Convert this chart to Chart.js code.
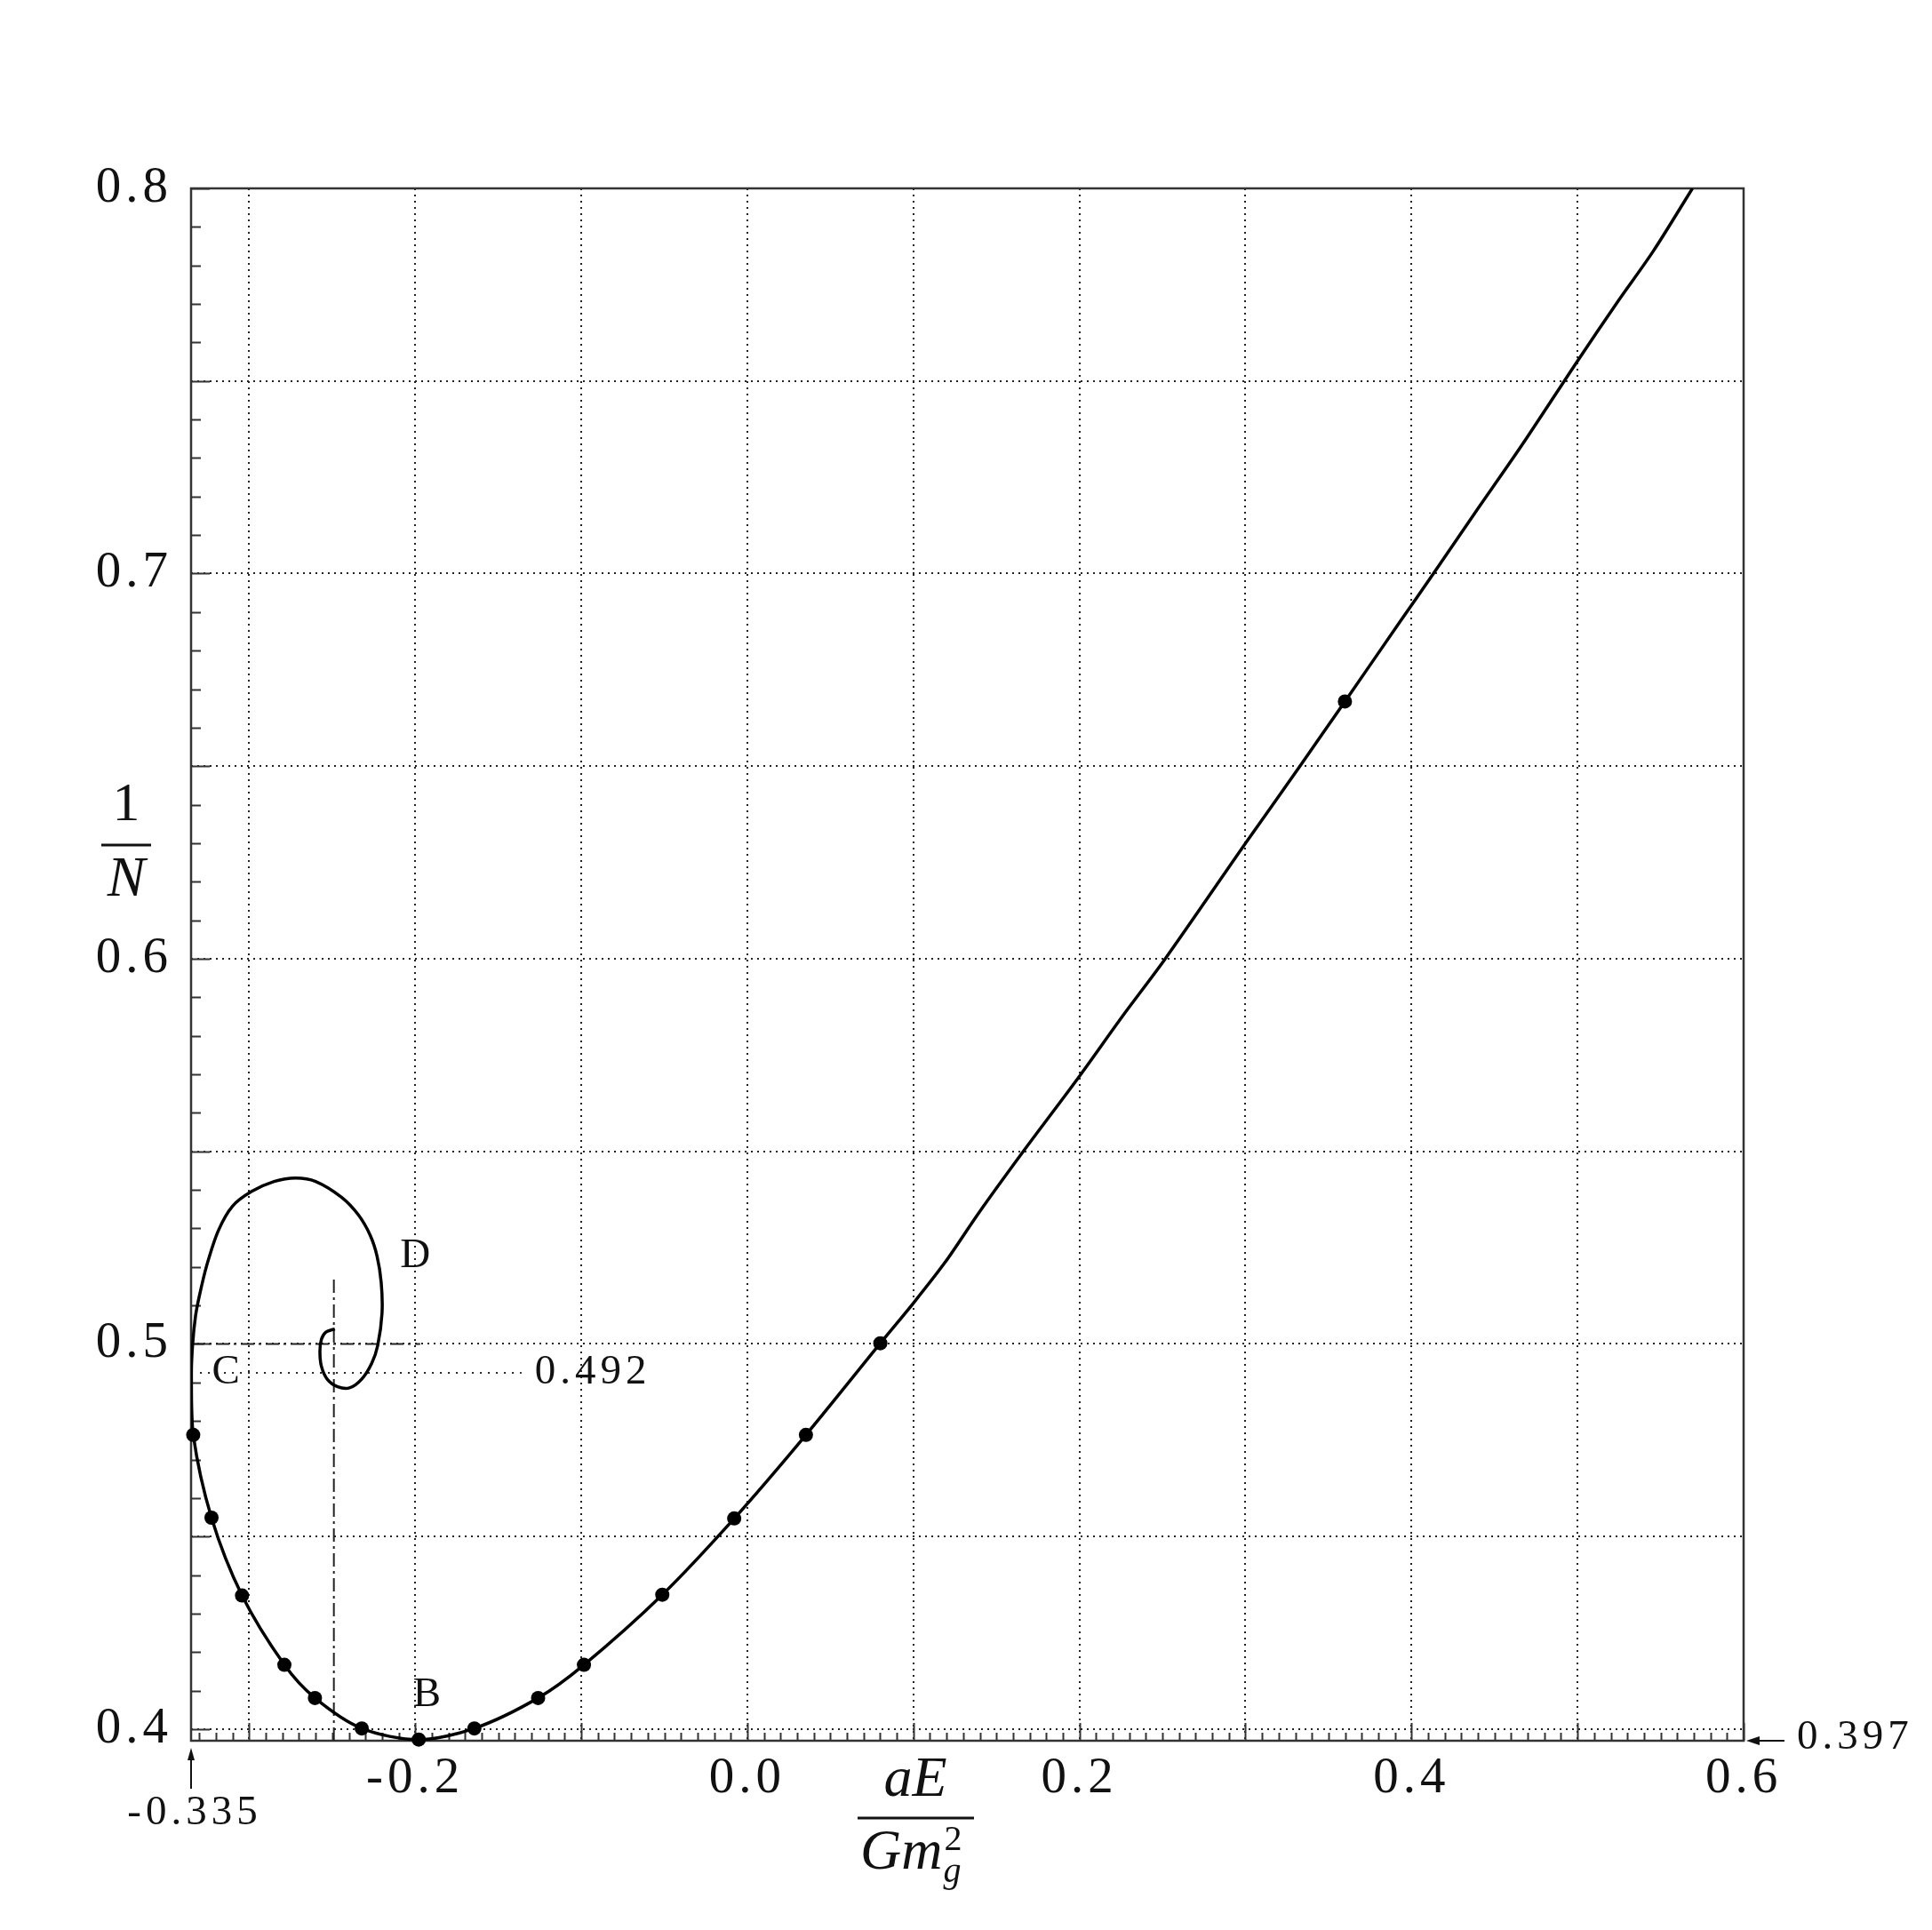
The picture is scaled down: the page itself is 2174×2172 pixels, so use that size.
<!DOCTYPE html>
<html lang="en">
  <head>
    <meta charset="utf-8">
    <title>1/N versus aE/Gm_g^2</title>
    <script src="https://cdn.jsdelivr.net/npm/chart.js@4.4.0/dist/chart.umd.min.js"></script>
    <style>
      body { margin: 0; background: #fff; }
      #wrap { position: absolute; left: 0; top: 0; width: 2174px; height: 2172px; }
    </style>
  </head>
  <body>
    <div id="wrap">
      <canvas id="spiral" width="2174" height="2172"></canvas>
    </div>
  <script>
  // ---- data ----
  // the solid curve, from the top right down and into the spiral
  var curveX = [0.5692, 0.5456, 0.5242, 0.5000, 0.4669, 0.4383, 0.4132, 0.3934, 0.3599, 0.3328,
                0.3004, 0.2517, 0.2258, 0.2000, 0.1662, 0.1395, 0.1191, 0.1000, 0.0801,
                0.0353, -0.0079, -0.0512, -0.0984, -0.1260, -0.1644, -0.1979, -0.2322, -0.2604, -0.2788,
                -0.3043, -0.3227, -0.3337, -0.3348, -0.3341, -0.3323, -0.3300, -0.3255, -0.3185, -0.3100,
                -0.2985, -0.2850, -0.2720, -0.2600, -0.2444, -0.2342, -0.2271, -0.2230, -0.2205, -0.2200,
                -0.2226, -0.2262, -0.2324, -0.2396, -0.2467, -0.2529, -0.2565, -0.2574, -0.2565, -0.2538, -0.2484];
  var curveY = [0.8000, 0.7837, 0.7706, 0.7552, 0.7336, 0.7158, 0.7000, 0.6877, 0.6668, 0.6500,
                0.6302, 0.6000, 0.5850, 0.5695, 0.5500, 0.5341, 0.5212, 0.5106, 0.5002,
                0.4764, 0.4547, 0.4349, 0.4167, 0.4081, 0.4002, 0.3973, 0.4002, 0.4081, 0.4167,
                0.4347, 0.4549, 0.4764, 0.4920, 0.4996, 0.5073, 0.5125, 0.5205, 0.5295, 0.5358,
                0.5396, 0.5422, 0.5431, 0.5422, 0.5381, 0.5335, 0.5282, 0.5228, 0.5160, 0.5080,
                0.4996, 0.4950, 0.4908, 0.4886, 0.4889, 0.4908, 0.4942, 0.4981, 0.5012, 0.5031, 0.5039];

  // the marked points on the curve
  var dotX = [0.3599, 0.0801, 0.0353, -0.0079, -0.0512, -0.0984, -0.1260, -0.1644,
              -0.1979, -0.2322, -0.2604, -0.2788, -0.3043, -0.3227, -0.3337];
  var dotY = [0.6668, 0.5002, 0.4764, 0.4547, 0.4349, 0.4167, 0.4081, 0.4002,
              0.3973, 0.4002, 0.4081, 0.4167, 0.4347, 0.4549, 0.4764];

  // guide lines around the spiral centre
  var vGuideX = [-0.249, -0.249];
  var vGuideY = [0.397, 0.5167];
  var hGuideX = [-0.335, -0.197];
  var hGuideY = [0.5, 0.5];
  var levelX = [-0.3296, -0.136];
  var levelY = [0.4925, 0.4925];

  // axes
  var xMin = -0.335, xMax = 0.6;
  var yMin = 0.397, yMax = 0.8;
  var xGridValues = [-0.3, -0.2, -0.1, 0.0, 0.1, 0.2, 0.3, 0.4, 0.5, 0.6];
  var xTickLabels = ['', '-0.2', '', '0.0', '', '0.2', '', '0.4', '', '0.6'];
  var yGridValues = [0.40, 0.45, 0.50, 0.55, 0.60, 0.65, 0.70, 0.75, 0.80];
  var yTickLabels = ['0.4', '', '0.5', '', '0.6', '', '0.7', '', '0.8'];

  // text marks: [text, x, y]
  var pointNames = [['B', -0.193, 0.4089], ['C', -0.3141, 0.4925], ['D', -0.2, 0.5228]];
  var levelLabel = ['0.492', -0.128, 0.4925];
  var xLimitLabel = '-0.335';
  var yLimitLabel = '0.397';

  //-----------------------------------------------------------------------------------------------------------------

  function pairs(xs, ys) {
    var out = [];
    for (var i = 0; i < xs.length; ++i) out.push({x: xs[i], y: ys[i]});
    return out;
  }

  var serif = "'Liberation Serif', 'Times New Roman', serif";

  // frame, inward tick marks, titles and the little annotations
  var decor = {
    id: 'decor',
    beforeDraw: function(chart) {
      // wider spacing for the tick numbers, like the original typesetting
      chart.ctx.letterSpacing = '5px';
    },
    beforeDatasetsDraw: function(chart) {
      var ctx = chart.ctx, a = chart.chartArea;
      var xs = chart.scales.x, ys = chart.scales.y;
      ctx.letterSpacing = '0px';
      ctx.save();
      ctx.strokeStyle = '#333';
      ctx.lineWidth = 2;
      ctx.beginPath();
      for (var i = 40; i <= 80; i++) {
        var py = Math.round(ys.getPixelForValue(i / 100)) + 0.5;
        var len = (i % 5 === 0) ? 21 : 11;
        ctx.moveTo(a.left, py);
        ctx.lineTo(a.left + len, py);
      }
      for (var j = -33; j <= 60; j++) {
        var px = Math.round(xs.getPixelForValue(j / 100)) + 0.5;
        var l2 = (j % 10 === 0) ? 20 : 9;
        ctx.moveTo(px, a.bottom);
        ctx.lineTo(px, a.bottom - l2);
      }
      ctx.stroke();
      ctx.lineWidth = 2.5;
      ctx.strokeRect(a.left, a.top, a.right - a.left, a.bottom - a.top);
      ctx.restore();
    },
    afterDraw: function(chart) {
      var ctx = chart.ctx, a = chart.chartArea;
      var xs = chart.scales.x, ys = chart.scales.y;
      ctx.save();
      ctx.fillStyle = '#111';
      ctx.strokeStyle = '#111';

      // B, C, D
      ctx.font = '47px ' + serif;
      ctx.textAlign = 'center';
      ctx.textBaseline = 'middle';
      pointNames.forEach(function(p) {
        ctx.fillText(p[0], xs.getPixelForValue(p[1]), ys.getPixelForValue(p[2]));
      });

      ctx.letterSpacing = '5px';
      ctx.textAlign = 'left';
      ctx.fillText(levelLabel[0], xs.getPixelForValue(levelLabel[1]), ys.getPixelForValue(levelLabel[2]));

      // -0.335 arrow under the axis
      var ax = xs.getPixelForValue(xMin);
      ctx.lineWidth = 2;
      ctx.beginPath();
      ctx.moveTo(ax, a.bottom + 54);
      ctx.lineTo(ax, a.bottom + 20);
      ctx.stroke();
      ctx.beginPath();
      ctx.moveTo(ax, a.bottom + 8);
      ctx.lineTo(ax - 4, a.bottom + 22);
      ctx.lineTo(ax + 4, a.bottom + 22);
      ctx.closePath();
      ctx.fill();
      ctx.textAlign = 'center';
      ctx.fillText(xLimitLabel, ax + 4, a.bottom + 82);

      // 0.397 arrow right of the frame
      var ay = ys.getPixelForValue(yMin);
      ctx.beginPath();
      ctx.moveTo(a.right + 46, ay);
      ctx.lineTo(a.right + 16, ay);
      ctx.stroke();
      ctx.beginPath();
      ctx.moveTo(a.right + 3, ay);
      ctx.lineTo(a.right + 18, ay - 5);
      ctx.lineTo(a.right + 18, ay + 5);
      ctx.closePath();
      ctx.fill();
      ctx.textAlign = 'left';
      ctx.fillText(yLimitLabel, a.right + 60, ay - 3);
      ctx.letterSpacing = '0px';

      // y title 1/N
      ctx.textAlign = 'center';
      ctx.textBaseline = 'alphabetic';
      ctx.font = '62px ' + serif;
      ctx.fillText('1', 142, 923);
      ctx.font = 'italic 64px ' + serif;
      ctx.fillText('N', 142, 1008);
      ctx.lineWidth = 3;
      ctx.beginPath();
      ctx.moveTo(114, 951);
      ctx.lineTo(170, 951);
      ctx.stroke();

      // x title aE / Gm_g^2
      ctx.font = 'italic 64px ' + serif;
      ctx.fillText('aE', 1030, 2021);
      ctx.beginPath();
      ctx.moveTo(965, 2046);
      ctx.lineTo(1096, 2046);
      ctx.stroke();
      ctx.textAlign = 'left';
      ctx.fillText('Gm', 968, 2103);
      var w = ctx.measureText('Gm').width;
      ctx.font = '40px ' + serif;
      ctx.fillText('2', 968 + w + 2, 2082);
      ctx.font = 'italic 40px ' + serif;
      ctx.fillText('g', 968 + w + 1, 2118);
      ctx.restore();
    }
  };

  var ctx = document.getElementById('spiral');
  var spiralChart = new Chart(ctx, {
    type: 'scatter',
    data: {
      datasets: [{
        data: pairs(dotX, dotY),
        showLine: false,
        pointRadius: 8,
        pointBackgroundColor: '#000',
        pointBorderWidth: 0,
        clip: false
      }, {
        data: pairs(curveX, curveY),
        showLine: true,
        borderColor: '#000',
        borderWidth: 3.5,
        pointRadius: 0,
        tension: 0.3,
        fill: false
      }, {
        data: pairs(vGuideX, vGuideY),
        showLine: true,
        borderColor: '#222',
        borderWidth: 2,
        borderDash: [15, 5, 3, 5],
        pointRadius: 0
      }, {
        data: pairs(hGuideX, hGuideY),
        showLine: true,
        borderColor: '#222',
        borderWidth: 2,
        borderDash: [15, 5, 3, 5],
        pointRadius: 0
      }, {
        data: pairs(levelX, levelY),
        showLine: true,
        borderColor: '#222',
        borderWidth: 2,
        borderDash: [2, 7],
        pointRadius: 0
      }]
    },
    options: {
      responsive: false,
      animation: false,
      layout: { padding: { left: 0, top: 212, right: 212, bottom: 0 } },
      plugins: { legend: { display: false }, tooltip: { enabled: false } },
      scales: {
        x: {
          type: 'linear',
          min: xMin,
          max: xMax,
          afterBuildTicks: function(s) { s.ticks = xGridValues.map(function(v) { return {value: v}; }); },
          afterFit: function(s) { s.height = 213; },
          grid: { color: '#222', lineWidth: 2, drawTicks: false },
          border: { display: false, dash: [2, 5] },
          ticks: {
            autoSkip: false,
            maxRotation: 0,
            padding: 9,
            color: '#111',
            font: { family: serif, size: 57 },
            callback: function(v, i) { return xTickLabels[i]; }
          }
        },
        y: {
          type: 'linear',
          min: yMin,
          max: yMax,
          afterBuildTicks: function(s) { s.ticks = yGridValues.map(function(v) { return {value: v}; }); },
          afterFit: function(s) { s.width = 215; },
          grid: { color: '#222', lineWidth: 2, drawTicks: false },
          border: { display: false, dash: [2, 5] },
          ticks: {
            autoSkip: false,
            padding: 21,
            color: '#111',
            font: { family: serif, size: 57 },
            callback: function(v, i) { return yTickLabels[i]; }
          }
        }
      }
    },
    plugins: [decor]
  });
  </script>
  </body>
</html>
